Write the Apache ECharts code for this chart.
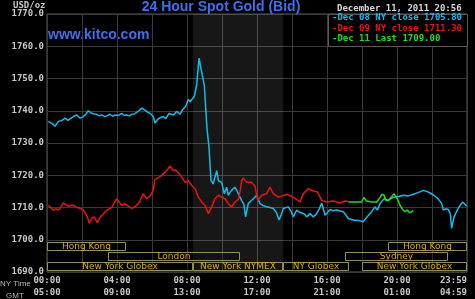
<!DOCTYPE html>
<html><head><meta charset="utf-8">
<script src="https://cdn.jsdelivr.net/npm/echarts@6/dist/echarts.min.js"></script>
<style>html,body{margin:0;padding:0;background:#000;}#c{width:475px;height:299px;}</style>
</head><body><div id="c"></div>
<script>
// ---- data ----
const dec08Hours = [0.08,0.17,0.3,0.46,0.65,0.85,1.03,1.2,1.31,1.5,1.7,1.89,2.08,2.2,2.36,2.55,2.7,2.84,3.0,3.12,3.31,3.45,3.6,3.75,3.89,4.05,4.27,4.4,4.55,4.7,4.84,5.0,5.12,5.25,5.41,5.6,5.75,5.89,6.0,6.07,6.17,6.25,6.36,6.5,6.65,6.78,6.97,7.1,7.22,7.41,7.6,7.73,7.92,8.08,8.18,8.27,8.42,8.55,8.69,8.75,8.84,8.99,9.07,9.14,9.26,9.37,9.5,9.6,9.7,9.79,9.88,9.98,10.13,10.27,10.36,10.45,10.55,10.74,10.85,10.93,11.12,11.25,11.35,11.5,11.65,11.79,11.98,12.17,12.35,12.55,12.75,12.93,13.1,13.26,13.4,13.5,13.79,13.95,14.07,14.27,14.4,14.55,14.7,14.84,15.03,15.22,15.41,15.55,15.7,15.89,16.17,16.35,16.55,16.75,16.93,17.1,17.22,17.5,17.8,18.07,18.3,18.55,18.74,18.88,19.03,19.26,19.5,19.79,20.1,20.36,20.65,20.93,21.2,21.5,21.7,21.89,22.1,22.27,22.45,22.55,22.65,22.8,22.93,23.05,23.12,23.26,23.38,23.5,23.62,23.75,23.88,23.98];
const dec08Values = [1736.7,1737.2,1736.0,1735.2,1736.7,1737.0,1737.7,1737.0,1737.2,1738.2,1738.7,1737.7,1738.2,1738.8,1740.0,1739.2,1739.0,1738.9,1738.4,1738.7,1738.2,1738.5,1738.9,1738.3,1738.7,1738.5,1739.2,1738.6,1738.7,1738.4,1738.9,1739.0,1739.5,1740.0,1740.8,1740.2,1739.6,1739.2,1738.6,1738.2,1736.2,1736.8,1737.5,1737.9,1738.2,1737.5,1739.2,1738.9,1738.7,1739.8,1738.9,1740.2,1741.3,1743.5,1742.8,1742.5,1744.5,1747.9,1756.3,1754.5,1752.0,1747.9,1740.8,1734.6,1728.5,1718.4,1717.3,1719.5,1721.4,1718.3,1718.8,1717.8,1714.3,1716.3,1713.8,1714.6,1715.3,1716.3,1715.2,1714.3,1712.2,1711.0,1707.1,1711.2,1712.0,1712.7,1713.8,1711.2,1710.6,1710.2,1710.0,1709.7,1708.5,1706.1,1708.0,1709.7,1710.2,1708.8,1707.1,1709.2,1708.6,1708.3,1708.0,1707.1,1708.1,1707.1,1708.1,1709.5,1711.4,1707.6,1709.4,1709.0,1709.2,1708.9,1708.7,1707.5,1706.6,1706.1,1706.0,1705.6,1707.1,1708.7,1710.2,1709.2,1711.2,1712.7,1712.2,1713.2,1713.4,1713.8,1713.6,1714.1,1714.6,1715.3,1715.0,1714.5,1713.8,1713.1,1712.0,1711.2,1709.2,1709.6,1709.4,1708.0,1703.5,1707.1,1708.5,1709.7,1710.8,1711.7,1711.0,1710.4];

const dec09Hours = [0.08,0.2,0.36,0.5,0.65,0.8,0.93,1.05,1.22,1.35,1.5,1.65,1.79,1.95,2.08,2.27,2.42,2.55,2.7,2.88,3.03,3.2,3.41,3.55,3.7,3.85,3.98,4.1,4.27,4.46,4.65,4.84,5.0,5.12,5.3,5.41,5.5,5.69,5.92,6.07,6.17,6.3,6.46,6.6,6.74,6.9,7.03,7.22,7.35,7.5,7.7,7.89,8.08,8.27,8.46,8.65,8.84,9.03,9.22,9.41,9.6,9.79,9.98,10.17,10.36,10.55,10.74,10.93,11.05,11.12,11.22,11.41,11.7,11.89,12.04,12.27,12.55,12.74,12.93,13.22,13.45,13.7,14.07,14.3,14.46,14.65,14.93,15.22,15.45,15.7,15.98,16.36,16.74,17.03,17.22];
const dec09Values = [1710.7,1710.0,1709.2,1709.6,1709.2,1710.2,1711.4,1711.0,1710.4,1710.6,1710.7,1710.2,1709.9,1709.6,1709.2,1707.6,1705.1,1706.6,1707.1,1705.3,1706.9,1707.8,1709.2,1709.6,1710.0,1711.5,1712.7,1711.8,1710.7,1711.2,1710.4,1709.7,1710.2,1710.7,1711.8,1713.2,1714.3,1712.7,1713.8,1715.3,1718.8,1719.0,1719.6,1720.2,1720.9,1721.8,1722.9,1721.4,1721.6,1720.9,1719.4,1717.8,1718.3,1716.8,1715.8,1713.2,1711.7,1710.7,1708.1,1710.2,1712.7,1713.8,1713.2,1712.7,1711.2,1710.2,1711.7,1712.5,1715.5,1718.3,1719.1,1717.8,1717.8,1716.5,1712.2,1713.8,1714.3,1716.3,1714.3,1713.2,1713.6,1714.1,1713.2,1712.4,1711.7,1714.3,1715.8,1715.1,1714.8,1712.2,1711.7,1712.0,1711.4,1712.0,1711.9];

const dec11Hours = [17.22,17.98,18.11,18.26,18.55,18.84,19.03,19.14,19.26,19.37,19.5,19.7,19.83,19.94,20.02,20.17,20.32,20.46,20.59,20.74,20.93];
const dec11Values = [1711.7,1711.7,1713.1,1712.0,1711.7,1711.7,1713.1,1714.1,1713.8,1712.2,1712.2,1713.4,1714.3,1714.3,1712.7,1710.7,1709.4,1708.7,1709.2,1708.3,1709.0];

const nyTickLabels = ['00:00','04:00','08:00','12:00','16:00','20:00','23:59'];
const gmtTickLabels = ['05:00','09:00','13:00','17:00','21:00','01:00','04:59'];

const marketNames = ['Hong Kong','London','New York Globex','New York NYMEX','NY Globex','Hong Kong','Sydney','New York Globex'];
const marketStart = [0,3.5,0,8.333,13.5,19.5,17,18];
const marketEnd   = [4.5,11,8.333,13.5,17.25,24,22.9,24];
const marketRow   = [0,1,2,2,2,0,1,2];

const comexHours = [8.333, 13.5];

const legendLabels = ['-Dec 08 NY close 1705.80','-Dec 09 NY close 1711.30','-Dec 11 Last 1709.00'];
const titleText = '24 Hour Spot Gold (Bid)';
const dateText = 'December 11, 2011 20:56';

// ---- chart ----
const colors = ['#10bde8','#f21010','#18e018'];
const zip = (a,b) => a.map((x,i)=>[x,b[i]]);
const mono = '"DejaVu Sans Mono", monospace';

const chart = echarts.init(document.getElementById('c'), null, {renderer:'canvas'});

function renderMarket(params, api){
  const row = api.value(2);
  const top = 1699.2 - row*3.05;
  const p0 = api.coord([api.value(0), top]);
  const p1 = api.coord([api.value(1), top - 2.8]);
  const x0 = Math.round(p0[0])+0.5, y0 = Math.round(p0[1])+0.5;
  const x1 = Math.round(p1[0])-0.5, y1 = Math.round(p1[1])-0.5;
  return {type:'group', children:[
    {type:'rect', shape:{x:x0,y:y0,width:x1-x0,height:y1-y0}, style:{fill:'rgba(0,0,0,0.25)', stroke:'#948e5c', lineWidth:1}},
    {type:'text', style:{text:marketNames[params.dataIndex], x:(x0+x1)/2, y:(y0+y1)/2+0.5, align:'center', verticalAlign:'middle', fill:'#dcb000', font:'9px "DejaVu Sans"'}}
  ]};
}

const option = {
  backgroundColor:'#000',
  animation:false,
  grid:{left:47, right:8, top:14, bottom:23, show:true, borderColor:'#5a5a5a', borderWidth:1},
  xAxis:{type:'value', min:0, max:24, interval:2,
    axisLine:{show:false}, axisTick:{show:false},
    splitLine:{show:true, lineStyle:{color:'#3a3a3a', width:1}},
    axisLabel:{color:'#c8c8c8', fontFamily:mono, fontWeight:'bold', fontSize:9, lineHeight:12, margin:3,
      alignMaxLabel:'right',
      formatter:function(v){ if (v%4!==0) return ''; const i=v/4; return nyTickLabels[i]+'\n'+gmtTickLabels[i]; }}
  },
  yAxis:{type:'value', min:1690, max:1770, interval:10,
    axisLine:{show:false}, axisTick:{show:false},
    splitLine:{show:true, lineStyle:{color:'#3a3a3a', width:1}},
    axisLabel:{color:'#c8c8c8', fontFamily:mono, fontWeight:'bold', fontSize:9, margin:3,
      formatter:function(v){return v.toFixed(1);}}
  },
  series:[
    {type:'line', data:zip(dec08Hours,dec08Values), showSymbol:false, lineStyle:{color:colors[0], width:1.5}, z:3,
      markArea:{silent:true, itemStyle:{color:'rgba(255,255,255,0.09)'}, data:[[{xAxis:comexHours[0]},{xAxis:comexHours[1]}]]}},
    {type:'line', data:zip(dec09Hours,dec09Values), showSymbol:false, lineStyle:{color:colors[1], width:1.5}, z:4},
    {type:'line', data:zip(dec11Hours,dec11Values), showSymbol:false, lineStyle:{color:colors[2], width:1.5}, z:5},
    {type:'custom', renderItem:renderMarket, z:2, silent:true,
      data:marketNames.map((n,i)=>[marketStart[i], marketEnd[i], marketRow[i]])}
  ],
  graphic:[
    {type:'text', left:13, top:1, style:{text:'USD/oz', fill:'#c8c8c8', font:'bold 9px '+mono}},
    {type:'text', x:221, y:7, style:{text:titleText, fill:'#3f6ef0', font:'bold 14px "Liberation Sans", Arial', align:'center', verticalAlign:'middle'}},
    {type:'text', x:48, y:35, style:{text:'www.kitco.com', fill:'#3f6ef0', font:'bold 14px "Liberation Sans", Arial', verticalAlign:'middle'}},
    {type:'text', x:337, y:9, style:{text:dateText, fill:'#d8d8d8', font:'bold 9px '+mono, verticalAlign:'middle'}},
    {type:'rect', shape:{x:328.5, y:14.5, width:139, height:32}, style:{fill:'#000', stroke:'#5a5a5a', lineWidth:1}, z:10},
    {type:'text', x:332, y:18, z:11, style:{text:legendLabels[0], fill:colors[0], font:'bold 9px '+mono, verticalAlign:'middle'}},
    {type:'text', x:332, y:28.5, z:11, style:{text:legendLabels[1], fill:colors[1], font:'bold 9px '+mono, verticalAlign:'middle'}},
    {type:'text', x:332, y:39, z:11, style:{text:legendLabels[2], fill:colors[2], font:'bold 9px '+mono, verticalAlign:'middle'}},
    {type:'text', x:0, y:284, style:{text:'NY Time', fill:'#b8b8b8', font:'8px "Liberation Sans"', verticalAlign:'middle'}},
    {type:'text', x:6, y:296, style:{text:'GMT', fill:'#b8b8b8', font:'8px "Liberation Sans"', verticalAlign:'middle'}}
  ]
};
chart.setOption(option);
</script></body></html>
